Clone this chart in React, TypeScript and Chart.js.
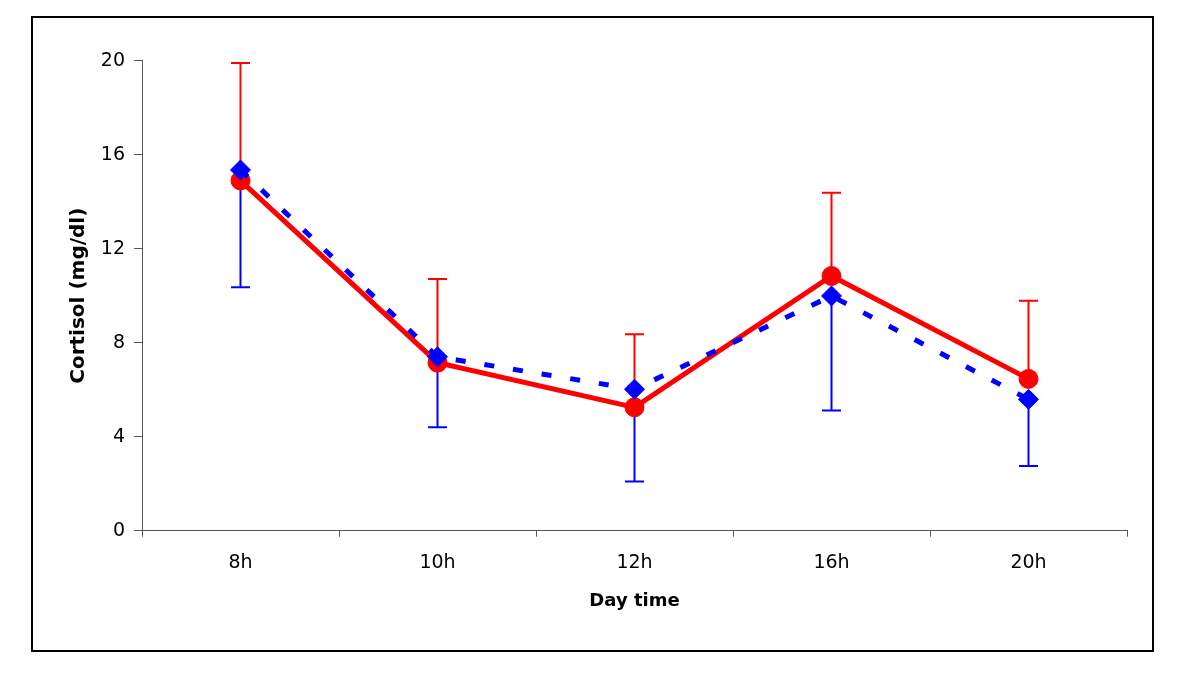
import React, { useEffect, useRef } from "react";
import { Chart, registerables } from "chart.js";

Chart.register(...registerables);

const categories = ["8h", "10h", "12h", "16h", "20h"];
const redMeans = [14.9, 7.15, 5.25, 10.84, 6.46];
const redErrUp = [5.0, 3.56, 3.11, 3.54, 3.33];
const blueMeans = [15.35, 7.4, 6.02, 9.99, 5.59];
const blueErrDown = [4.99, 3.0, 3.93, 4.88, 2.84];
const yTicks = [0, 4, 8, 12, 16, 20];

const FONT = "'DejaVu Sans', 'Liberation Sans', Arial, sans-serif";

const errorBarPlugin = {
  id: "errorBars",
  beforeDatasetsDraw(chart: any) {
    const ctx = chart.ctx;
    const x = chart.scales.x;
    const y = chart.scales.y;
    const cap = 9.5;
    ctx.save();
    const drawBar = (i: number, from: number, to: number, color: string) => {
      const px = x.getPixelForValue(i);
      const p1 = y.getPixelForValue(from);
      const p2 = y.getPixelForValue(to);
      ctx.strokeStyle = color;
      ctx.lineWidth = 2;
      ctx.beginPath();
      ctx.moveTo(px, p1);
      ctx.lineTo(px, p2);
      ctx.moveTo(px - cap, p2);
      ctx.lineTo(px + cap, p2);
      ctx.stroke();
    };
    categories.forEach((_, i) => {
      drawBar(i, redMeans[i], redMeans[i] + redErrUp[i], "#ff0000");
      drawBar(i, blueMeans[i], blueMeans[i] - blueErrDown[i], "#0000ff");
    });
    ctx.restore();
  },
};

export default function App() {
  const ref = useRef<HTMLCanvasElement | null>(null);

  useEffect(() => {
    if (!ref.current) return;
    const chart = new Chart(ref.current, {
      type: "line",
      data: {
        labels: categories,
        datasets: [
          {
            label: "Red",
            data: redMeans,
            borderColor: "#ff0000",
            backgroundColor: "#ff0000",
            borderWidth: 5,
            pointStyle: "circle",
            pointRadius: 9.5,
            pointBorderWidth: 1,
            pointBackgroundColor: "#ff0000",
            pointBorderColor: "#ff0000",
            tension: 0,
            order: 2,
          },
          {
            label: "Blue",
            data: blueMeans,
            borderColor: "#0000ff",
            backgroundColor: "#0000ff",
            borderWidth: 5,
            borderDash: [10, 19],
            pointStyle: "rectRot",
            pointRadius: 10,
            pointBorderWidth: 1,
            pointBackgroundColor: "#0000ff",
            pointBorderColor: "#0000ff",
            tension: 0,
            order: 1,
          },
        ],
      },
      options: {
        animation: false,
        responsive: false,
        maintainAspectRatio: false,
        layout: { padding: { left: 0, right: 73, top: 60.7, bottom: 0 } },
        plugins: {
          legend: { display: false },
          tooltip: { enabled: false },
        },
        scales: {
          x: {
            type: "category",
            offset: true,
            grid: {
              offset: true,
              drawOnChartArea: false,
              drawTicks: true,
              tickLength: 6,
              color: "#555555",
            },
            border: { display: true, color: "#555555", width: 1 },
            ticks: {
              color: "#000000",
              padding: 15,
              font: { family: FONT, size: 19 },
              maxRotation: 0,
            },
            title: {
              display: true,
              text: "Day time",
              color: "#000000",
              font: { family: FONT, size: 18, weight: "bold" },
              padding: { top: 0, bottom: 73.4 },
            },
            afterFit: (scale: any) => {
              scale.height = 155.3;
            },
          },
          y: {
            min: 0,
            max: 20,
            afterBuildTicks: (scale: any) => {
              scale.ticks = yTicks.map((v) => ({ value: v }));
            },
            grid: {
              drawOnChartArea: false,
              drawTicks: true,
              tickLength: 8,
              color: "#555555",
            },
            border: { display: true, color: "#555555", width: 1 },
            ticks: {
              color: "#000000",
              padding: 9,
              font: { family: FONT, size: 19 },
            },
            title: {
              display: true,
              text: "Cortisol (mg/dl)",
              color: "#000000",
              font: { family: FONT, size: 20, weight: "bold" },
              padding: { top: 67, bottom: 0 },
            },
            afterFit: (scale: any) => {
              scale.width = 142;
            },
          },
        },
      },
      plugins: [errorBarPlugin],
    });
    return () => chart.destroy();
  }, []);

  return (
    <div
      style={{
        position: "absolute",
        left: 0,
        top: 0,
        width: 1200,
        height: 686,
        background: "#ffffff",
      }}
    >
      <div
        style={{
          position: "absolute",
          left: 31,
          top: 16,
          width: 1123,
          height: 636,
          boxSizing: "border-box",
          border: "2px solid #000000",
        }}
      />
      <canvas
        ref={ref}
        width={1200}
        height={686}
        style={{ position: "absolute", left: 0, top: 0, width: 1200, height: 686 }}
      />
    </div>
  );
}
